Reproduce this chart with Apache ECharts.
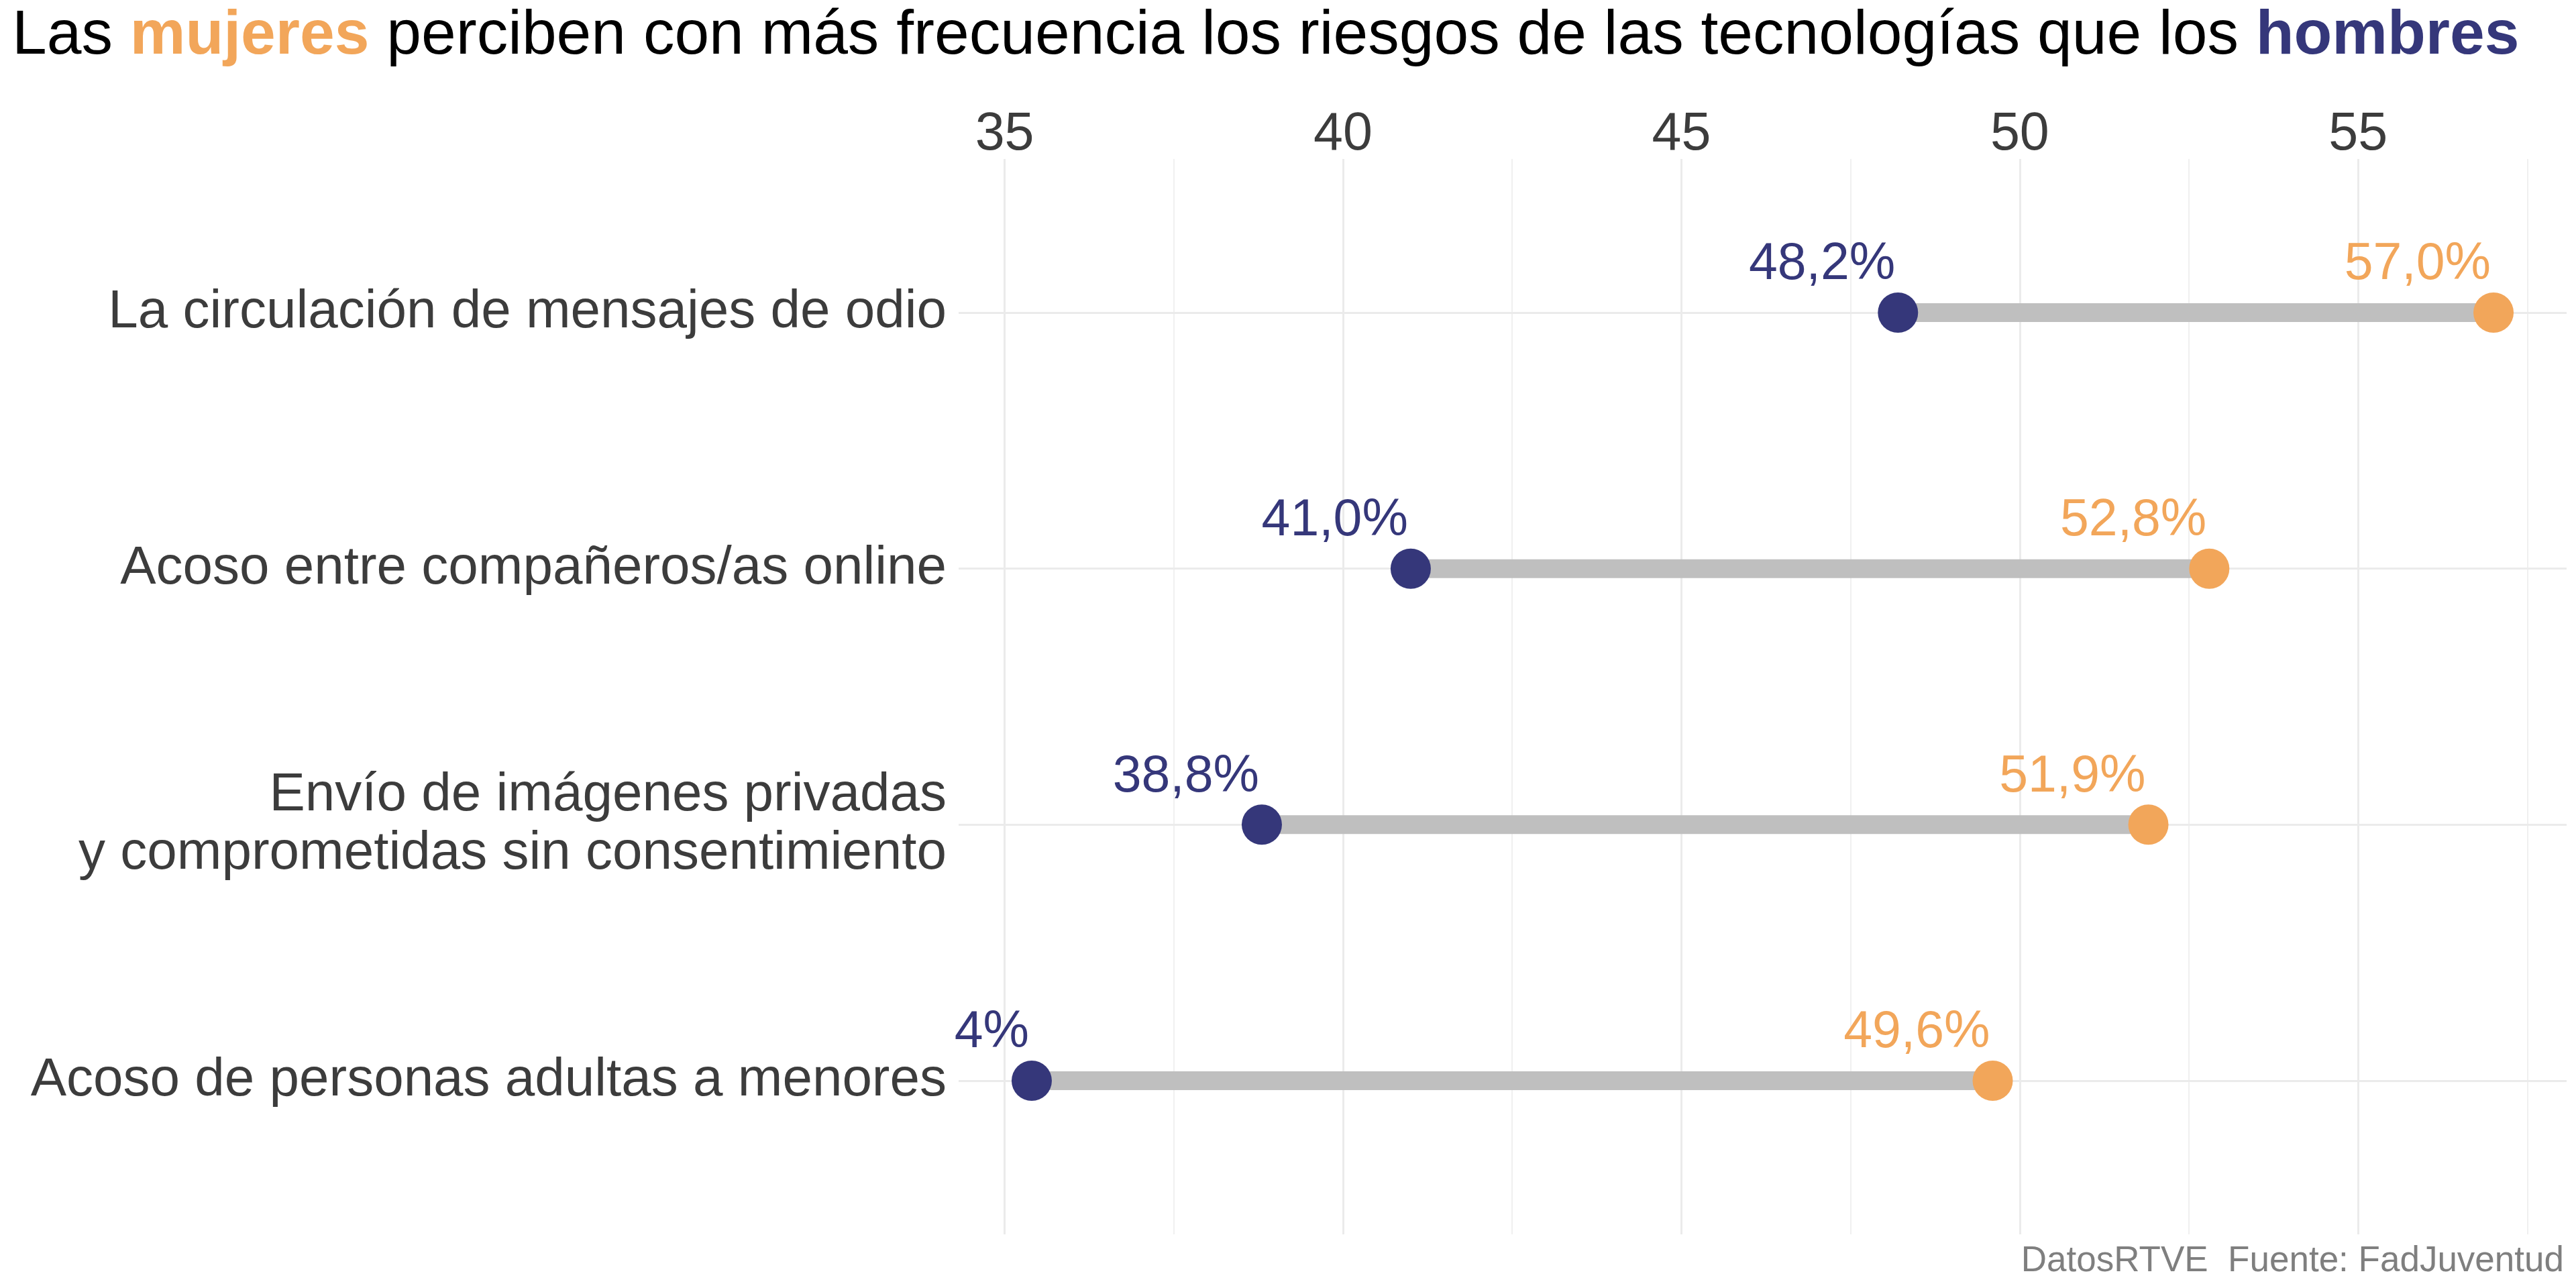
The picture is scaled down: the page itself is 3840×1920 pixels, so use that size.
<!DOCTYPE html>
<html>
<head>
<meta charset="utf-8">
<script src="https://cdn.jsdelivr.net/npm/echarts@6/dist/echarts.min.js"></script>
<style>
html,body{margin:0;padding:0;background:#fff;}
#chart{width:3840px;height:1920px;}
</style>
</head>
<body>
<div id="chart"></div>
<script>
// ---- data ----
const categories = [
  'La circulación de mensajes de odio',
  'Acoso entre compañeros/as online',
  'Envío de imágenes privadas\ny comprometidas sin consentimiento',
  'Acoso de personas adultas a menores'
];
const hombres = [48.2, 41.0, 38.8, 35.4];
const mujeres = [57.0, 52.8, 51.9, 49.6];
const hombresLabels = ['48,2%', '41,0%', '38,8%', '4%'];
const mujeresLabels = ['57,0%', '52,8%', '51,9%', '49,6%'];
const xTicks = [35, 40, 45, 50, 55];

const NAVY = '#35377A';
const ORANGE = '#F2A65A';
const FONT = 'Liberation Sans';

const chart = echarts.init(document.getElementById('chart'), null, {renderer: 'canvas'});

const rowData = categories.map((c, i) => [hombres[i], mujeres[i], i + 1]);

chart.setOption({
  animation: false,
  backgroundColor: '#ffffff',
  textStyle: {fontFamily: FONT},
  title: [
    {
      left: 18, top: 8, padding: 0,
      text: '{n|Las }{o|mujeres}{n| perciben con más frecuencia los riesgos de las tecnologías que los }{b|hombres}',
      textStyle: {
        fontFamily: FONT, fontSize: 93, fontWeight: 'normal', color: '#000000', lineHeight: 93,
        rich: {
          n: {fontFamily: FONT, fontSize: 93, fontWeight: 'normal', color: '#000000', lineHeight: 93},
          o: {fontFamily: FONT, fontSize: 93, fontWeight: 'bold', color: ORANGE, lineHeight: 93},
          b: {fontFamily: FONT, fontSize: 93, fontWeight: 'bold', color: NAVY, lineHeight: 93}
        }
      }
    },
    {
      right: 18, top: 1854, padding: 0,
      text: 'DatosRTVE  Fuente: FadJuventud',
      textStyle: {fontFamily: FONT, fontSize: 53, color: '#7F7F7F', fontWeight: 'normal', lineHeight: 53}
    }
  ],
  grid: {left: 1429, right: 14, top: 237, bottom: 80, containLabel: false, outerBoundsMode: 'none'},
  xAxis: {
    type: 'value',
    position: 'top',
    min: 34.32,
    max: 58.08,
    splitNumber: 5,
    axisLine: {show: false},
    axisTick: {show: false},
    axisLabel: {
      fontFamily: FONT, fontSize: 79, color: '#3C3C3C', margin: -4,
      showMinLabel: false, showMaxLabel: false,
      formatter: v => (xTicks.indexOf(v) >= 0 ? String(v) : '')
    },
    splitLine: {show: true, showMinLine: false, showMaxLine: false, lineStyle: {color: '#EBEBEB', width: 3}},
    minorTick: {show: false, splitNumber: 2},
    minorSplitLine: {show: true, lineStyle: {color: '#EBEBEB', width: 1.5}}
  },
  yAxis: {
    type: 'value',
    inverse: true,
    min: 0.4,
    max: 4.6,
    splitNumber: 4,
    axisLine: {show: false},
    axisTick: {show: false},
    axisLabel: {
      fontFamily: FONT, fontSize: 80, color: '#3C3C3C', margin: 18, lineHeight: 87,
      align: 'right', verticalAlign: 'middle', padding: [10, 0, 0, 0],
      showMinLabel: false, showMaxLabel: false,
      formatter: v => {
        const k = Math.round(v);
        return (Math.abs(v - k) < 1e-6 && k >= 1 && k <= categories.length) ? categories[k - 1] : '';
      }
    },
    splitLine: {show: true, showMinLine: false, showMaxLine: false, lineStyle: {color: '#EBEBEB', width: 3}}
  },
  series: [
    {
      type: 'custom',
      name: 'segment',
      data: rowData,
      encode: {x: [0, 1], y: 2},
      z: 2,
      renderItem: (params, api) => {
        const a = api.coord([api.value(0), api.value(2)]);
        const b = api.coord([api.value(1), api.value(2)]);
        return {
          type: 'line',
          shape: {x1: a[0], y1: a[1], x2: b[0], y2: b[1]},
          style: {stroke: '#BFBFBF', lineWidth: 28, lineCap: 'butt'}
        };
      }
    },
    {
      type: 'scatter',
      name: 'Hombres',
      data: hombres.map((v, i) => [v, i + 1]),
      symbol: 'circle',
      symbolSize: 60,
      z: 3,
      itemStyle: {color: NAVY, opacity: 1},
      label: {
        show: true,
        position: [26, -41],
        align: 'right',
        verticalAlign: 'middle',
        fontFamily: FONT, fontSize: 77, color: NAVY,
        formatter: p => hombresLabels[p.dataIndex]
      }
    },
    {
      type: 'scatter',
      name: 'Mujeres',
      data: mujeres.map((v, i) => [v, i + 1]),
      symbol: 'circle',
      symbolSize: 60,
      z: 3,
      itemStyle: {color: ORANGE, opacity: 1},
      label: {
        show: true,
        position: [26, -41],
        align: 'right',
        verticalAlign: 'middle',
        fontFamily: FONT, fontSize: 77, color: ORANGE,
        formatter: p => mujeresLabels[p.dataIndex]
      }
    }
  ]
});
</script>
</body>
</html>
